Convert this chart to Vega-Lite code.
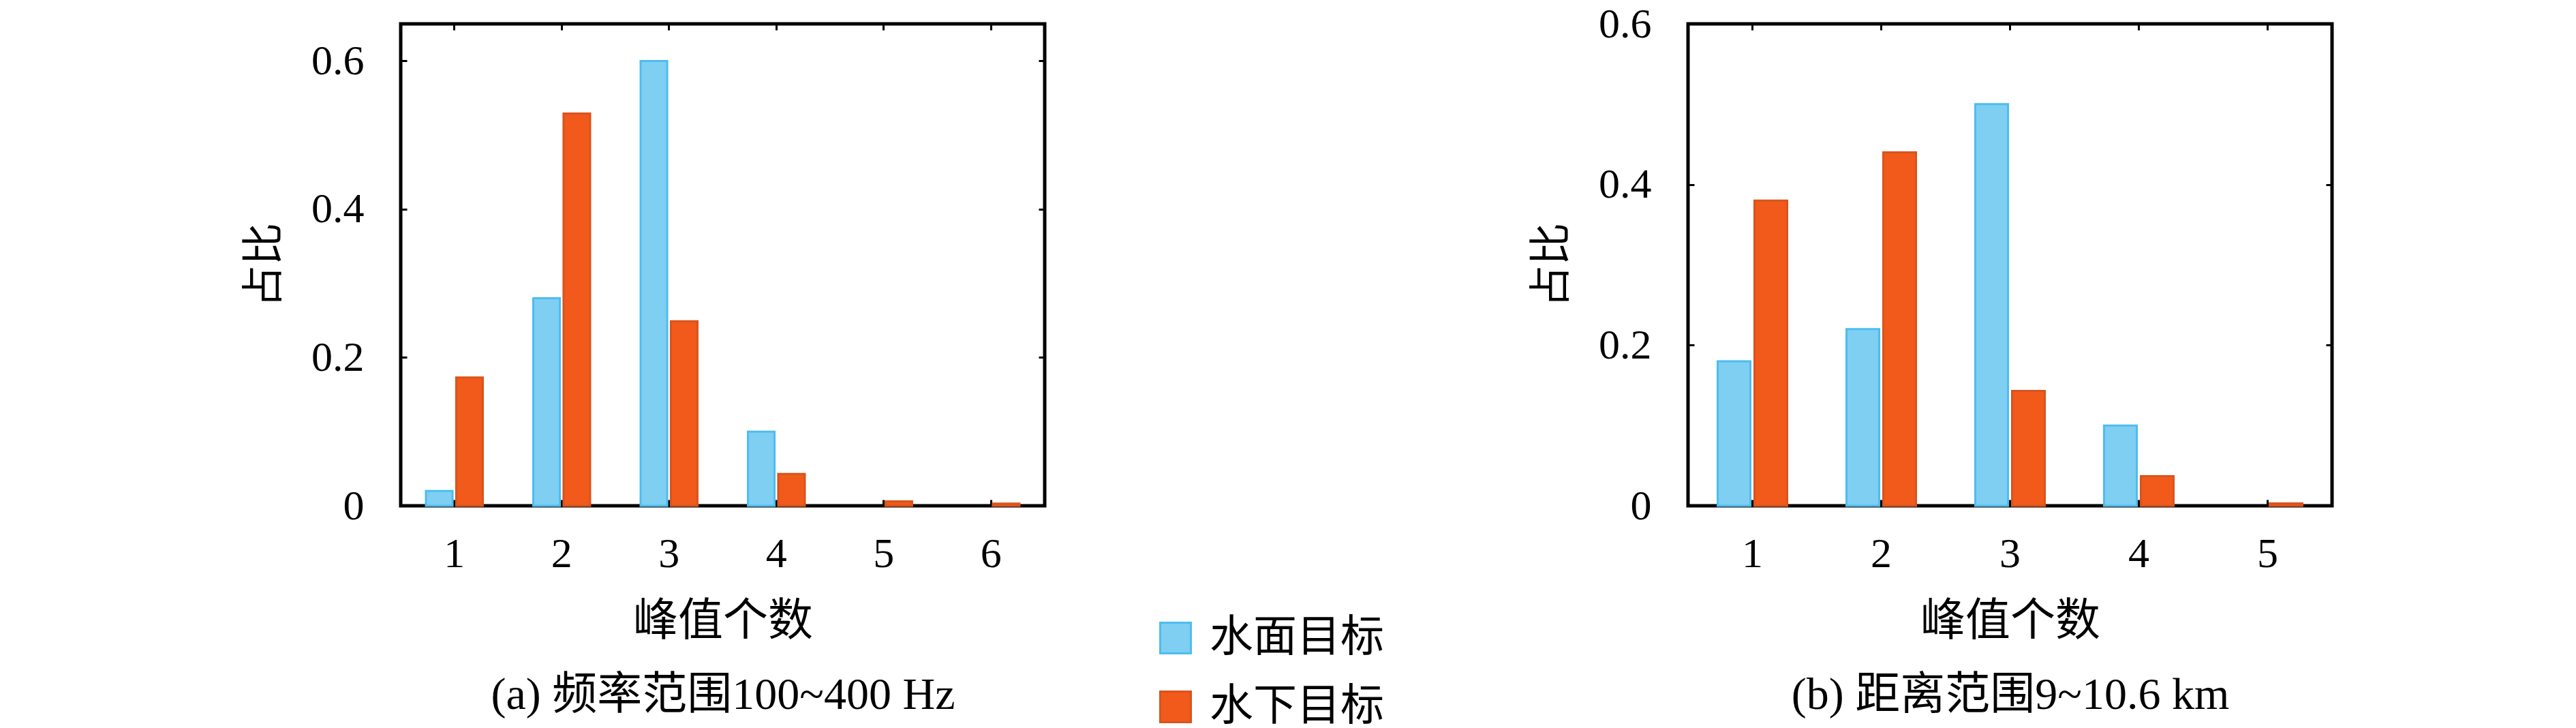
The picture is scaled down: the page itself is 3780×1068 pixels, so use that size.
{
  "$schema": "https://vega.github.io/schema/vega-lite/v6.json",
  "background": "white",
  "padding": {"left": 355, "top": 1, "right": 0, "bottom": 0},
  "spacing": 210,
  "config": {
    "font": "Liberation Serif, Noto Sans CJK SC",
    "view": {"stroke": "black", "strokeWidth": 5},
    "axis": {
      "grid": false,
      "domain": false,
      "ticks": true,
      "tickColor": "black",
      "tickWidth": 3,
      "tickSize": -9,
      "labelFont": "Liberation Serif, Noto Sans CJK SC",
      "labelFontSize": 62,
      "labelColor": "black",
      "titleFont": "Liberation Serif, Noto Sans CJK SC",
      "titleFontSize": 66,
      "titleFontWeight": "normal",
      "titleColor": "black"
    },
    "legend": {
      "orient": "none",
      "title": null,
      "symbolType": "square",
      "symbolSize": 2025,
      "symbolStrokeWidth": 3,
      "symbolOpacity": 1,
      "labelFont": "Liberation Serif, Noto Sans CJK SC",
      "labelFontSize": 64,
      "labelColor": "black",
      "labelLimit": 0,
      "rowPadding": 37,
      "labelOffset": 18
    }
  },
  "datasets": {
    "a": [
      {"n": "1", "type": "水面目标", "v": 0.02},
      {"n": "1", "type": "水下目标", "v": 0.173},
      {"n": "2", "type": "水面目标", "v": 0.28},
      {"n": "2", "type": "水下目标", "v": 0.529},
      {"n": "3", "type": "水面目标", "v": 0.6},
      {"n": "3", "type": "水下目标", "v": 0.249},
      {"n": "4", "type": "水面目标", "v": 0.1},
      {"n": "4", "type": "水下目标", "v": 0.043},
      {"n": "5", "type": "水下目标", "v": 0.006},
      {"n": "6", "type": "水下目标", "v": 0.003}
    ],
    "b": [
      {"n": "1", "type": "水面目标", "v": 0.18},
      {"n": "1", "type": "水下目标", "v": 0.38},
      {"n": "2", "type": "水面目标", "v": 0.22},
      {"n": "2", "type": "水下目标", "v": 0.44},
      {"n": "3", "type": "水面目标", "v": 0.5},
      {"n": "3", "type": "水下目标", "v": 0.143},
      {"n": "4", "type": "水面目标", "v": 0.1},
      {"n": "4", "type": "水下目标", "v": 0.037},
      {"n": "5", "type": "水下目标", "v": 0.003}
    ]
  },
  "resolve": {"scale": {"x": "independent", "y": "independent", "xOffset": "independent", "color": "independent", "stroke": "independent"}, "legend": {"color": "independent", "stroke": "independent"}},
  "hconcat": [
    {
      "width": 945,
      "height": 707,
      "data": {"name": "a"},
      "resolve": {"axis": {"x": "independent", "y": "independent"}},
      "layer": [
        {
          "mark": {"type": "bar", "strokeWidth": 3},
          "encoding": {
            "x": {"field": "n", "type": "ordinal", "scale": {"paddingInner": 0.47, "paddingOuter": 0.235},
              "axis": {"orient": "bottom", "labelAngle": 0, "labelPadding": 49, "title": ["峰值个数", "(a) 频率范围100~400 Hz"], "titleLineHeight": 108, "titlePadding": 36}},
            "xOffset": {"field": "type", "type": "nominal", "sort": ["水面目标", "水下目标"], "scale": {"domain": ["水面目标", "水下目标"], "paddingInner": 0.12}},
            "y": {"field": "v", "type": "quantitative", "scale": {"domain": [0, 0.65], "nice": false, "zero": true},
              "axis": {"orient": "left", "values": [0, 0.2, 0.4, 0.6], "format": ".1~f", "labelPadding": 63, "title": "占比", "titleFontSize": 62, "titlePadding": 36}},
            "color": {"field": "type", "type": "nominal", "sort": ["水面目标", "水下目标"], "scale": {"domain": ["水面目标", "水下目标"], "range": ["#7fcff3", "#f15a1a"]},
              "legend": {"legendX": 1105, "legendY": 869}},
            "stroke": {"field": "type", "type": "nominal", "sort": ["水面目标", "水下目标"], "scale": {"domain": ["水面目标", "水下目标"], "range": ["#4dbdef", "#d9541e"]},
              "legend": {"legendX": 1105, "legendY": 869}}
          }
        },
        {
          "mark": {"type": "bar", "opacity": 0},
          "encoding": {
            "x": {"field": "n", "type": "ordinal", "axis": {"orient": "top", "labels": false, "title": null}},
            "xOffset": {"field": "type", "type": "nominal", "sort": ["水面目标", "水下目标"]},
            "y": {"field": "v", "type": "quantitative", "axis": {"orient": "right", "values": [0, 0.2, 0.4, 0.6], "labels": false, "title": null}}
          }
        }
      ]
    },
    {
      "width": 945,
      "height": 707,
      "data": {"name": "b"},
      "resolve": {"axis": {"x": "independent", "y": "independent"}},
      "layer": [
        {
          "mark": {"type": "bar", "strokeWidth": 3},
          "encoding": {
            "x": {"field": "n", "type": "ordinal", "scale": {"paddingInner": 0.46, "paddingOuter": 0.23},
              "axis": {"orient": "bottom", "labelAngle": 0, "labelPadding": 49, "title": ["峰值个数", "(b) 距离范围9~10.6 km"], "titleLineHeight": 108, "titlePadding": 36}},
            "xOffset": {"field": "type", "type": "nominal", "sort": ["水面目标", "水下目标"], "scale": {"domain": ["水面目标", "水下目标"], "paddingInner": 0.11}},
            "y": {"field": "v", "type": "quantitative", "scale": {"domain": [0, 0.6], "nice": false, "zero": true},
              "axis": {"orient": "left", "values": [0, 0.2, 0.4, 0.6], "format": ".1~f", "labelPadding": 63, "title": "占比", "titleFontSize": 62, "titlePadding": 36}},
            "color": {"field": "type", "type": "nominal", "scale": {"domain": ["水面目标", "水下目标"], "range": ["#7fcff3", "#f15a1a"]}, "legend": null},
            "stroke": {"field": "type", "type": "nominal", "scale": {"domain": ["水面目标", "水下目标"], "range": ["#4dbdef", "#d9541e"]}, "legend": null}
          }
        },
        {
          "mark": {"type": "bar", "opacity": 0},
          "encoding": {
            "x": {"field": "n", "type": "ordinal", "axis": {"orient": "top", "labels": false, "title": null}},
            "xOffset": {"field": "type", "type": "nominal", "sort": ["水面目标", "水下目标"]},
            "y": {"field": "v", "type": "quantitative", "axis": {"orient": "right", "values": [0, 0.2, 0.4, 0.6], "labels": false, "title": null}}
          }
        }
      ]
    }
  ]
}
